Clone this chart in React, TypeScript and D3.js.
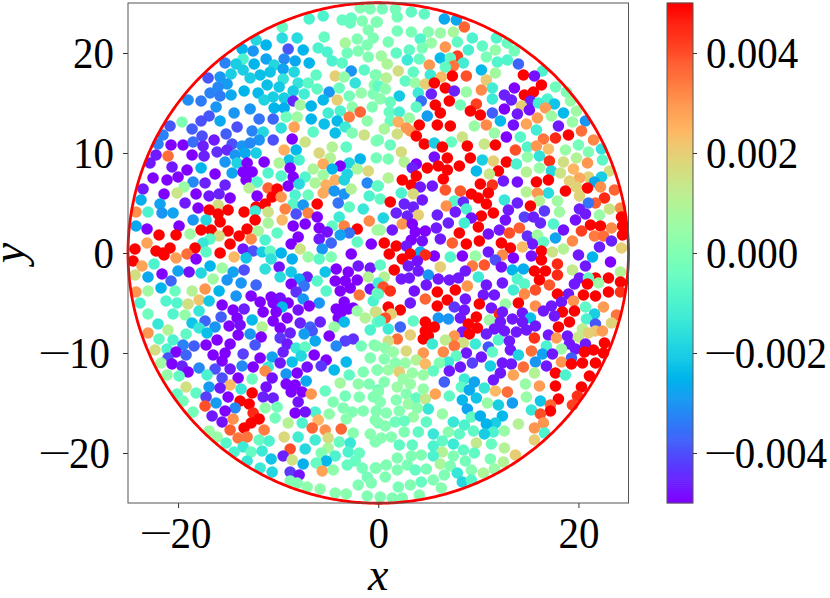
import { useEffect, useRef } from "react"
import * as d3 from "d3"

const WIDTH = 830
const HEIGHT = 598
const PLOT = { left: 128, right: 628.5, top: 3, bottom: 503 }
const BAR = { left: 667, right: 693 }
const FONT = "'Liberation Serif', serif"

const X_TICKS = [-20, 0, 20]
const Y_TICKS = [-20, -10, 0, 10, 20]
const BAR_TICKS = [-0.004, -0.002, 0, 0.002, 0.004]
const RADIUS = 25
const DOT_R = 5.8

// each point: x, y, value in units of 1e-3
const upperLeft = [
[-1.8,24.5,0],[-0.8,24.4,0],[-6.9,23.4,-1],[-5.5,23.7,-1],[-3.6,23.3,-.5],[-2.7,23.5,-.5],[-2.8,23,-.5],[-1.6,23.2,0],[-0.2,23.1,-.3],[-9.6,22.6,-.5],
[-1,22.3,0],[-9.6,21.5,-1.7],[-8.1,21.5,-1.7],[-5.4,21.6,-.5],[-2.1,21.4,0],[-0.5,21.5,0],[-12.2,21.3,-1.8],[-11.2,20.8,-2.5],[-3.3,21,.8],[-1.1,20.8,0],
[-13.6,20.4,-2.5],[-12.5,20.2,-3],[-9,20.4,-3.9],[-7.5,20.3,-2.5],[-6,20.5,-1],[-5.1,20.1,-1],[-2,20.2,0],[-3.1,20,-.3],[-1,19.6,0],[-13.5,19.4,-1],
[-11.2,19.4,-2.8],[-9.4,19.4,-3.2],[-8.3,19.2,-2.7],[-4.6,19.2,-1],[-3.6,19,-.7],[-15.3,19,-3.3],[-14.2,18.9,-2],[-12.4,18.9,-2.5],[-10.4,18.8,-1.8],[-6.9,19,-2.5],
[-13.5,18.3,-2],[-9.5,18.4,-2.8],[-10.8,18.1,-2.2],[-8.4,18.1,-1.8],[-2.7,18.2,-3],[-1.4,18.3,-.7],[-0.3,17.8,0],[-14.7,17.9,-2],[-11.8,17.8,-2.3],[-6.2,17.8,-.6],
[-4.3,17.7,2],[-3.4,17.6,.4],[-17,17.5,-3.9],[-15.8,17.6,-3],[-12.8,17.5,-2],[-9.5,17.4,-1.5],[-15.1,16.9,-2.9],[-16,16.6,-3.2],[-11.1,16.8,-2.3],[-8,17,-1.5],
[-7,17,-.7],[-2.3,17,-1.5],[-9.9,16.6,-2.1],[-6.1,16.4,-.6],[-4.9,16.1,-3],[-3.9,16.5,-.4],[-0.4,16.8,.2],[-16.8,16,-3.3],[-15.8,15.7,-3.4],[-14.7,15.8,-2.7],
[-13.4,16.2,-2.5],[-12,16,-2.4],[-8.5,16.2,-2],[-7.4,15.9,-1.2],[-2.9,15.7,-.2],[-1.7,16,.4],[-0.5,15.9,0],[-19,15.3,-3.1],[-17.7,15.2,-3.4],[-11.4,15.3,-1.9],
[-10.5,15.6,-2],[-9.4,15.5,-2],[-8.5,15.2,-4.5],[-5.5,15.3,-2.4],[-4.1,15.3,2],[-7.8,14.8,.7],[-16.2,14.6,-3],[-10.4,14.5,-2.5],[-9.4,14.5,-2.6],[-6.7,14.7,-2.5],
[-2.6,14.6,.3],[-0.6,14.6,0],[-12.8,14.4,-3],[-14.4,14,-3],[-5,14,-1.2],[-3.8,14.2,-1],[-1.8,14.1,3.7],[-2.9,13.6,3.4],[-16.9,13.7,-3.9],[-17.7,13.2,-4],
[-19.6,13.1,0],[-15.8,13.2,-2.7],[-11.9,13.4,-3.5],[-10.5,13.4,-3.7],[-9.2,13.6,-.3],[-8.1,13.6,.6],[-6.7,13.4,-2.5],[-4.1,13.2,-2.4],[-1.1,13.2,.3],[-20.8,12.7,-3.9],
[-18.6,12.4,-3.8],[-14.1,12.6,-4],[-9.7,12.5,-1.6],[-8.4,12.6,2.8],[-5.4,12.9,-2.3],[-3.3,12.6,-1.3],[-12.6,12.2,-3.3],[-11.5,12.1,-1.8],[-6.5,12.1,-.7],[-4.3,12,-2.3],
[-2.6,12,0],[-1.4,11.8,1.5],[-21.5,11.8,-3.3],[-17.6,11.7,-4],[-15.2,11.9,-3.8],[-22,10.9,-3.3],[-20.7,10.8,-5],[-19.5,10.8,-5],[-18.5,11.1,-3.6],[-16.4,11.3,-4.7],
[-17.5,10.7,-4.6],[-14.6,10.9,-4],[-13.6,10.7,-3],[-11.9,11.3,-3],[-12.8,11,-3.2],[-10.5,11.3,-4],[-8.6,11.4,-5],[-7.3,11.1,1.5],[-4.6,10.6,1],[-3.2,10.6,-.6],
[-0.2,11.2,0],[-9.4,10.3,2.6],[-8.2,10.3,-2.4],[-5.9,10,1.8],[-22.2,9.8,-4.7],[-21,9.7,3.6],[-18.6,9.8,-5],[-17.4,9.7,-4.6],[-16.1,10.1,-4.4],[-15.1,10.3,-4.5],
[-14.3,9.8,-3],[-13.3,10,-2.7],[-12.2,10,-2],[-4.8,9.5,1],[-8.9,9.3,-2.2],[-7.9,9.3,-1],[-1.8,9.4,-2.5],[-2.9,9,-1.8],[-22.8,9,-4.7],[-20.6,8.6,-4.7],
[-15.3,9.1,-3],[-14.1,9,-1.9],[-13.1,9,-5],[-11.4,9.1,-5],[-9.9,9,.9],[-5.5,8.9,2.7],[-3.8,8.7,-5],[-17.7,8.5,-2.5],[-19.1,8.3,-5],[-8.8,8.5,-5],
[-6.5,8.4,.9],[-4.6,8.4,-2.5],[-2.1,8.4,.8],[-1,8.2,1.8],[-22.5,7.5,-5],[-21.1,7.3,-5],[-20,7.6,-5],[-16.3,7.9,-5],[-14.6,8,-2.8],[-13.1,8.1,-5],
[-13.5,8.1,-5],[-12.6,8.1,-5],[-11,8,-.9],[-9.7,7.7,-.9],[-8.5,7.6,-5],[-7.3,7.6,-.9],[-5.5,7.8,.6],[-3.1,7.9,-1.9],[-13.2,7.3,-5],[-18.5,7.1,-3.2],
[-17.3,7,-4.6],[-12.1,7.1,-.9],[-6.3,7,.9],[-4.3,7.3,2.6],[-3.4,7.3,-1.9],[-1.1,7,-3.2],[-23.5,6.4,-4.7],[-15.3,6.8,-4.6],[-9,6.7,-5],[-7.9,6.9,-1.7],
[-5.2,6.8,2.6],[-0.1,6.7,-.5],[-19.4,6.6,.5],[-21.4,5.9,-5],[-20.1,6,1.4],[-18.2,5.9,-5],[-16.9,5.7,-4.7],[-15.9,5.9,-4.6],[-14.8,5.5,-5],[-12.9,6.5,1.1],
[-11,6.5,3.7],[-10.1,6.4,5],[-12.1,5.7,-5],[-10.6,5.6,5],[-9.7,5.6,3],[-8.3,5.8,-1],[-7,5.8,-.4],[-5.5,6,2.7],[-4.4,6.2,-3],[-3.4,5.9,-3],
[-2.7,6.4,1],[-0.9,5.7,-1],[-23.7,5.3,-2.6],[-21.8,4.9,-2.8],[-19.3,5,-4.7],[-16,4.8,1.6],[-11.3,4.9,5],[-12.2,4.6,5],[-8.5,4.9,-.8],[-7.5,4.8,-3],
[-6.1,4.9,5],[-4,5,-3.5],[-18,4.5,-5],[-16.9,4.3,5],[-15,4.3,5],[-13.4,4.1,5],[-12.3,4.2,-1.3],[-11,4.1,1.5],[-9.3,4.4,3.3],[-2.9,4.6,-.6],
[-1.5,4.4,-1.4],[-24.2,4.1,3.1],[-23,4.1,-1],[-21.6,4,-3],[-20.5,4,-2.8],[-16,3.9,5],[-8.2,3.9,-4],[-7,4,3.3],[-6.1,3.6,-5],[-3.9,3.6,-1.3],
[-18.5,3.3,-3],[-17.2,3.3,-1.8],[-15.8,3.1,5],[-12.3,3.3,5],[-9.6,3.3,2.4],[-11,3,.8],[-24.2,2.7,-2.7],[-19.9,2.7,-5],[-8.5,2.7,-5],[-7.3,2.9,-5],
[-4.6,2.7,-.6],[-3.4,2.7,3.3],[-0.9,3.2,3.2],[-23.1,2.4,-5],[-17.7,2.3,5],[-16.7,2.3,5],[-15,2.2,5],[-13.1,2.4,5],[-12,2.2,.8],[-10.1,2,-.6],
[-5.9,2.5,-5],[-5.1,2.1,-4.8],[-2.1,2.4,5],[-2.9,2,-3.5],[-3.8,1.8,-2.8],[-0.1,2.3,.7],[-21.9,1.8,5],[-20.2,1.8,5],[-18.8,1.9,.6],[-15.9,1.7,1.7],
[-13.9,1.7,5],[-16.8,1.4,-.7],[-8,1.6,-5],[-5.9,1.4,-4.7],[-12.7,1.4,3.2],[-11.3,1.3,-1],[-23.1,1,2.8],[-17.5,1,-1.4],[-14.8,.9,5],[-4.7,1,-3.7],
[-2.1,1.1,-.6],[-8.7,.9,-5],[-0.7,.9,-5],[-24.3,.4,5],[-22.2,.2,5],[-20.8,.5,5],[-18.3,.5,5],[-13.5,.4,-4.7],[-12.5,.2,-4],[-11.6,.1,-2],
[-10.8,.2,-.6],[-9.7,0,-2.5],[-7.8,.4,1.5],[-5.6,.4,-3],[-17.2,.1,-.7],[-15.8,0,5],[-19.1,-.1,3.6],[-2.7,-.1,-5],[-21.5,0,5],
]

const lowerLeft = [
[-21.4,-.2,5],[-24.5,-.8,5],[-20.2,-.5,2.9],[-18.2,-.6,-5],[-14.4,-.4,2.4],[-13.2,-.5,-2.2],[-10.7,-.6,-1.6],[-8.6,-.6,-2.6],[-7,-.4,.5],[-5.9,-.6,-.7],
[-4.7,-.4,0],[-23.6,-1.3,2.8],[-22.4,-1.1,-1],[-16.8,-1.3,-2.5],[-15.6,-1.5,.6],[-9.9,-1.4,-4.8],[-2,-1.3,-4.7],[-0.8,-1.5,-4.7],[-24.3,-2.2,1.6],[-23,-2.4,-2.7],
[-21.6,-2.1,-5],[-20,-1.8,-2.8],[-18.9,-1.9,-4.8],[-17.7,-2,-1.8],[-14.5,-1.9,-2.8],[-13.4,-1.7,-4],[-11.3,-1.6,-1.6],[-8.7,-1.9,-2.1],[-5.3,-1.9,-2.2],[-4.2,-1.6,-5],
[-3,-1.9,-5],[-1,-2.4,1],[-9.8,-2.4,-1.7],[-7.1,-2.4,-4.6],[-7.9,-2.6,-2.6],[-16.5,-2.6,.6],[-15.1,-2.7,-3],[-20.7,-2.8,-3.7],[-6.1,-2.8,-.8],[-4.3,-2.8,-5],
[-3.3,-2.8,-5],[-2.1,-2.7,-5],[-12.2,-3.2,-3.7],[-8.7,-3.1,-5],[-13.7,-3,-3],[-7.4,-3.3,-3.5],[-2.8,-3.5,-5],[-0.8,-3.6,-4.8],[-21.7,-3.5,-2.5],[-17.3,-3.6,3],
[-18.6,-3.8,1],[-15.9,-3.8,-2.5],[-5.2,-3.8,-.8],[-3.8,-3.8,-5],[-24.2,-3.9,3],[-23,-3.8,.6],[-20.3,-3.8,-.4],[-8.2,-3.9,-4.4],[-1.9,-4.2,3.5],[-0.1,-4,0],
[-14.2,-4.3,-3],[-12.7,-4.3,-5],[-10.7,-4.4,-5],[-9.8,-4.5,-4.8],[-7.5,-4.6,-3],[-17.9,-4.7,2.2],[-16.9,-4.8,-2.1],[-21.2,-4.8,-.9],[-20.1,-5,-.9],[-19,-5.1,1.6],
[-0.5,-4.8,-1],[-23.8,-5,-1],[-15.6,-5.2,-5],[-11.8,-4.9,-5],[-10.5,-5,-5],[-9,-5,-5],[-5.9,-5,-3],[-3.4,-4.9,-5],[-9.6,-5.4,-2.4],[-6.9,-5.3,-5],
[-2.5,-5.5,-5],[-14.5,-5.7,-5],[-13.4,-5.6,-4.6],[-8,-5.7,-4.8],[-4.2,-5.6,-5],[-3,-5.6,-5],[-17.9,-5.8,-1.4],[-11.5,-5.9,-5],[-10.2,-5.9,-5],[-23,-6.1,-.3],
[-20.5,-6.1,-.9],[-19.3,-6.2,.4],[-3.7,-5.9,-5],[-2.1,-5.8,.5],[-0.3,-5.9,1],[-15.7,-6.4,-3.8],[-14.1,-6.5,-5],[-9.1,-6.5,-5],[-4,-6.5,-5],[-1.3,-6.5,1],
[-18.6,-7,-2.2],[-17.3,-6.8,-3.7],[-12.6,-6.7,-2.4],[-10.5,-6.8,-5],[-5.8,-6.9,-4.6],[-3.4,-6.9,-2.4],[-0.1,-6.9,-.5],[-22,-7.1,-1.4],[-13.8,-7.2,-4.8],[-7.8,-7,-4.6],
[-17.9,-7.5,-1.4],[-16.3,-7.4,-3],[-14.9,-7.3,-5],[-11.6,-7.4,1],[-6.8,-7.4,-3.7],[-4.4,-7.4,.5],[-9.8,-7.5,-5],[-21,-7.7,1],[-0.8,-7.7,-1],[-17.1,-8,-2.3],
[-14,-8.2,-5],[-12.8,-8.1,-3],[-8.8,-8,-4.6],[-6.6,-7.8,-3.9],[-7.4,-8.1,-2.9],[-23,-8,3],[-19.2,-8.1,-.6],[-11.7,-8.4,-5],[-4.9,-8.3,-5],[-21.9,-8.6,-.6],
[-20.5,-8.7,-1],[-16.1,-8.7,-5],[-9.8,-8.5,-4.3],[-2.5,-8.6,-4.4],[-3.3,-8.8,-4.2],[-6.3,-8.8,-2.7],[-19.5,-9.2,-3.3],[-18.4,-9.3,-3.8],[-17.2,-9.2,-5],[-14.8,-9.1,-5],
[-12.3,-9.2,-3.9],[-9.1,-9.1,-4.7],[-4.2,-9.3,-3.2],[-1.7,-9.3,-.2],[-0.4,-9.2,0],[-22.3,-9.7,1.6],[-21.1,-9.6,-1],[-8.2,-9.5,-1.4],[-7.3,-9.4,-.6],[-20.2,-9.9,-5],
[-9.5,-9.9,-4.6],[-15.3,-10,-5],[-19.2,-10.2,-3.7],[-16.5,-10.2,-5],[-13.5,-10.1,-4.2],[-6.4,-10.2,-5],[-7.7,-10.3,-1.8],[-21,-10.5,-4],[-11.8,-10.5,-5],[-10.6,-10.4,-2.8],
[-0.8,-10.5,0],[-15.6,-10.8,-5],[-5.2,-10.7,-5],[-21.7,-11,.6],[-20.6,-11.1,-5],[-19.6,-11.3,-4.6],[-13.6,-11.3,-3.2],[-9.8,-11,-4.7],[-8.6,-10.9,-2.3],[-3.2,-10.9,-2.4],
[-5.7,-11.3,-4.3],[-17.9,-11.5,-3.2],[-16.3,-11.6,-4],[-14.8,-11.6,-4.7],[-12.5,-11.4,-5],[-11,-11.4,-1.4],[-7.1,-11.4,-4.8],[-0.1,-11.7,0],[-4.4,-11.7,-2.4],[-11.3,-11.8,3.2],
[-19,-11.9,-5],[-8.1,-12,-5],[-1.5,-11.9,0],[-2.9,-12.2,-.6],[-21.1,-12.2,.4],[-19.9,-12.3,-.6],[-17.1,-12.2,-1],[-9.2,-12.1,-3],[-14,-12.5,-5],[-15.6,-12.5,-4],
[-12.6,-12.6,-.4],[-10.6,-12.5,-4.8],[-7.2,-12.8,-2.7],[-14.8,-13.2,2.4],[-9.2,-13.1,-5],[-8.3,-13.2,-5],[-3.8,-13,.7],[-2,-13.1,.3],[-0.9,-13.1,0],[-19.2,-13.4,1.6],
[-16.9,-13.4,-2.9],[-15.8,-13.5,-4.7],[-11.2,-13.4,-4.8],[-13.7,-13.6,-1.4],[0,-13.7,-.5],[-8.7,-13.9,-5],[-7.6,-13.9,-5],[-6.7,-14.1,3],[-5.3,-13.8,-.5],[-20.1,-14.1,-.6],
[-18.2,-14,-.6],[-12.6,-14,5],[-3.3,-14.3,-.2],[-1.9,-14.4,0],[-0.5,-14.4,0],[-15,-14.4,-5],[-17.2,-14.4,-4.2],[-11.5,-14.4,-4.6],[-10.5,-14.5,-4.6],[-19.5,-14.8,-.2],
[-13.8,-14.8,5],[-16.2,-15,-2.9],[-8,-14.9,-4.8],[-4.5,-14.9,0],[-12.9,-15.1,5],[-3.5,-15.5,0],[-17.3,-15.3,4],[-14.3,-15.5,-3.2],[-11.3,-15.5,.3],[-10.1,-15.4,-.2],
[-15.3,-15.8,-5],[-6.3,-15.9,-1],[-1.5,-15.8,0],[-2.6,-15.9,0],[-0.2,-15.8,0],[-18.5,-15.9,-.2],[-12.5,-16,4.5],[-8.3,-16,-5],[-7.3,-15.9,-4.8],[-4.9,-16.1,.3],
[-16.6,-16.3,-4.7],[-10.3,-16.5,-.2],[-14.5,-16.6,3.1],[-11.9,-16.6,5],[-3.2,-16.6,.2],[-6,-16.7,2.5],[-12.7,-17,5],[-9,-17,1],[-15.6,-16.9,-4.8],[-7.6,-17,-1],
[0,-17,0],[-13.4,-17.5,5],[-6.6,-17.5,3.7],[-3.7,-17.6,3.7],[-14.8,-17.7,3.8],[-11.4,-17.7,3.4],[-5.3,-17.7,3.1],[-16.9,-17.8,.5],[-2.5,-18,.2],[-0.8,-18.1,.2],
[-16.1,-18.4,.5],[-14,-18.5,3.5],[-13.1,-18.4,3.5],[-9.4,-18.4,1.8],[-8,-18.4,-1.2],[-5,-18.5,1.7],[-15.2,-19,-.8],[-11.9,-18.7,-.5],[-10.9,-18.8,-1],[-6.3,-18.7,-1.2],
[-3.9,-18.9,-.5],[-2.8,-19,-1.4],[-13.5,-19.4,-1.3],[-8.8,-19.6,4],[-7.3,-19.6,-1.8],[-5,-19.5,.8],[-14.4,-19.9,-1],[-12.7,-19.9,-.5],[-11.6,-19.8,-1.3],[-5.7,-20,0],
[-4.3,-20.3,-1],[-3,-19.9,-1],[-1.9,-20,-.5],[-10.7,-20.6,-2.2],[-9.5,-20.3,-4.6],[-8.6,-20.7,1.5],[-13.1,-20.8,-1.4],[-5.2,-20.8,-2.4],[-2.3,-20.8,-.5],[-7.5,-21.1,-2.6],
[-6.2,-21,-.5],[-3.1,-21.2,-.5],[-11.8,-21.5,-1.3],[-1.6,-21.5,-.2],[-4.5,-21.7,.3],[-0.3,-21.5,0],[-10.6,-21.9,-1.8],[-5.6,-21.8,2.8],[-8.8,-21.9,-4.3],[-7.9,-22.2,-4.8],
[-1.1,-22.4,-.2],[-8.8,-22.8,0],[-8.1,-23,0],[-7.1,-23.4,.3],[-2,-23.2,0],[-0.7,-23,0],[-5.8,-23.6,.3],[-4.3,-24,.2],[-3.2,-24.1,.2],[-1.1,-24.3,0],
]

const upperRight = [
[.4,24.4,-.2],[1.7,24.4,-.2],[3.3,24.1,-.6],[4.6,23.9,-.6],[1.9,23.6,-.2],[6.6,23.4,-2.7],[7.8,23.3,-2.7],[-0.1,23.1,0],[8.6,22.6,3.7],[1.9,22.2,-.2],
[3.3,22.1,-.1],[5,22.1,.1],[6.2,22,.5],[7.5,22.1,.8],[9.4,21.5,-1],[11.8,21.5,-.9],[4.2,21.4,-.9],[1,21.1,-.1],[5.3,21,.5],[7.9,21.1,-.6],
[12.9,21,-.4],[10.4,20.7,-.6],[6.7,20.6,3],[4.4,20.5,-.1],[3.1,20.3,-.6],[9,20.3,-1.1],[11.7,20.3,.4],[13.6,20.2,-.2],[1.8,20,-.6],[.3,19.7,.6],
[7.9,19.7,4.2],[6.2,19.5,-2.4],[7.2,19.5,-.6],[10.8,19.6,-.1],[2.9,19.3,-1.3],[4.1,19.4,-.5],[.9,18.9,.9],[11.9,19.1,-.9],[12.9,19.3,-.9],[8.5,19,-1.2],
[5.1,18.8,3],[7.5,18.7,3.5],[6.7,18.6,-.6],[14,18.9,-3.7],[2,18.2,1.6],[3.5,18.1,-.6],[10.3,18.3,-2.4],[11.7,18,.7],[16.4,18.2,-1],[5.2,17.8,-1.3],
[7.4,17.7,5],[8.8,17.7,4],[14.5,17.8,5],[15.6,17.7,-4.8],[-0.2,17.8,0],[6.3,17.6,2.4],[.8,17.5,1.1],[10.8,17.3,2.1],[2.7,17.2,-.6],[3.7,17,.5],
[4.7,16.9,2],[5.6,17,5],[16.3,16.8,5],[17.7,16.6,-.3],[0,16.7,-.6],[13.6,16.5,-5],[6.7,16.5,5],[11.4,16.5,-1.2],[.7,16.4,.2],[7.6,16.2,-4.6],
[8.8,16.1,.5],[10.3,16.3,3.2],[4,16,-1.3],[5.3,15.9,-4.6],[15.5,16.1,5],[14.6,15.8,5],[18.8,16.1,-.1],[2.1,15.7,-2.1],[12.6,15.8,-4.6],[13.3,15.3,-4.6],
[11.4,15.4,-1.3],[.2,15.4,.2],[4.3,15.2,-3.6],[7.1,15.2,5],[9.8,14.9,4.2],[15.2,15.2,-4.6],[16.9,15.4,-1],[16,15,-1.2],[17.6,14.9,-2.2],[1.2,15.1,-.4],
[19.2,15.2,.4],[5.7,14.8,5],[8.2,14.8,-.2],[14.3,14.7,2],[3.8,14.6,-.6],[12.6,14.4,-5],[15.1,14.3,-4.8],[16.7,14.5,2.9],[9.2,14.2,5],[1.1,14.1,-.5],
[2.1,14.1,-1.1],[19.8,14.2,.6],[6.2,14,5],[11.4,14,-3.8],[18.5,14,-2.4],[10.2,13.8,5],[13.9,13.9,-4.7],[17.3,13.7,.6],[4.9,13.7,-2.9],[3.1,13.5,.5],
[15.9,13.5,2.9],[1.2,13.2,-.4],[12.2,13.2,-2.4],[19.4,13.1,.5],[20.7,13.2,-3],[2,13.1,2.6],[4.1,12.8,5],[5.9,12.8,5],[7.2,12.7,5],[9.6,12.7,.5],
[10.8,12.8,3.2],[13.5,12.8,-4.8],[14.8,12.9,2.8],[18,12.7,-4.7],[.6,12.4,.8],[2.8,12.5,3],[3.2,12.2,3],[15.8,12.3,-1.2],[20.3,12.2,3.6],[1.9,11.9,1.6],
[11.6,12,.5],[19,11.8,5],[3.8,11.7,5],[12.8,11.6,-5],[14.2,11.6,-.8],[17.7,11.5,4.5],[21.5,11.3,3.2],[0,11.3,-.1],[8.4,11.6,1.5],[16.5,11.4,3.5],
[4.6,10.9,5],[5.6,11,-2],[7.3,11.1,-.5],[8.9,10.7,5],[10.6,10.9,1.4],[11.7,10.8,5],[20,10.8,-.2],[1.2,10.8,-.4],[14.9,10.6,-.9],[15.8,10.7,3],
[17,10.4,2.3],[6.4,10.6,5],[13.7,10.3,4],[18.7,10.3,.5],[21,10.1,0],[2.3,10.1,1.7],[22.3,10.4,-1.5],[5.6,9.6,-4.8],[6.9,9.5,5],[16.1,9.7,-1.5],
[14.9,9.6,.4],[9.2,9.5,5],[-0.2,9.5,-.2],[19.8,9.5,1],[22.4,9.3,-.7],[1,9.4,-.1],[10.4,9.3,-2],[11.5,9.2,2],[12.8,9.1,5],[17.1,9.2,4.4],
[2.6,9.1,1],[18.5,9.1,1.6],[20.9,9,3],[13.8,8.9,-1],[3.8,8.9,-5],[3.4,8.5,-4.6],[6,8.7,5],[8.1,8.7,5],[16.1,8.5,.5],[4.9,8.5,5],
[6.9,8.3,5],[9.8,8.2,-2.4],[12,8.2,5],[14.8,8.1,1],[19.5,8.4,2.5],[17.3,8.2,-1.8],[23.1,8.2,1.6],[11.1,7.9,1.4],[18.2,8,1.5],[3.8,7.7,5],
[1,7.5,1],[21,7.6,1.9],[22.3,7.6,-2],[6.5,7.4,5],[20.1,7.5,2.7],[2.4,7.3,5],[17,7.3,5],[15.8,7.1,5],[13.9,7.1,-4.8],[12.5,7.2,-4.7],
[19.1,7.2,2],[21.6,7.1,-2.7],[3.3,6.8,5],[5.4,6.7,-4.7],[4.2,6.6,-4.7],[10.2,6.9,5],[11.4,6.8,4.4],[19.8,6.6,1.9],[22.2,6.6,3.1],[20.9,6.5,5],
[0,6.7,-.6],[14.8,6.1,1],[2.3,6,-1],[3.5,5.9,1.7],[6.7,6.3,3.9],[8.2,6.2,3.9],[11,6,5],[18.7,6.2,5],[17,6,-1.7],[15.9,6,3],
[23.6,6.3,3.7],[9.3,5.9,5],[20.1,5.7,1.9],[10,5.5,5],[4.4,5.3,-4.7],[12.6,5.3,-1.4],[22.6,5.5,4.5],[.2,5.4,-.6],[1.2,5.1,5],[7.6,5.2,-.8],
[8.5,5.1,-4.5],[16.1,5.2,1],[17.9,5.2,.6],[13.9,5,-4.6],[21.7,5,3.8],[21,5,-3.5],[10.8,4.9,5],[2.6,4.9,-4.6],[6.8,4.7,3.1],[15.2,4.7,5],
[3.5,4.6,-4.6],[20.1,4.4,-4.6],[24.2,4.5,3.2],[23.1,4.4,1.5],[7.7,4.1,-4.7],[8.8,4.4,-1],[13,4.3,-4.7],[16.6,4.2,-4.3],[18.1,4.1,.6],[1.8,4,-4.6],
[11.5,4,5],[20.7,3.9,-4.7],[5.9,3.8,-4.6],[22.1,3.8,.5],[4,3.8,2],[2.9,3.7,-4.6],[10.3,3.7,5],[14.6,3.6,-4.2],[15.5,3.6,-4.6],[24.3,3.6,5],
[.5,3.5,-1.9],[9.3,3.5,-4.8],[12.7,3.3,-4.8],[19.7,3.3,-4.8],[2.4,2.9,3],[7,3,-4.6],[8.6,3,-1.2],[3.4,2.9,-5],[17.5,2.9,-.9],[16.2,3,-4.5],
[21.2,2.8,5],[22.2,2.7,5],[24.4,2.7,5],[.2,2.3,.6],[1.4,2.3,-4.7],[5.8,2.5,-4.7],[10,2.6,5],[12.1,2.3,-4.7],[14.1,2.5,3.8],[18.5,2.3,-4.8],
[23.3,2.5,3.2],[3.7,2.1,-5],[4.7,2.2,-5],[20.3,2.2,4.2],[8.1,2,5],[11,1.9,-4.8],[13.1,2,4],[14.9,1.7,-4.4],[15.9,1.8,.6],[21.6,1.7,3.4],
[22.5,1.7,3.6],[24.4,1.8,5],[3.3,1.3,-5],[6.2,1.4,-4.7],[4.4,1.2,-4.8],[10.1,1.2,5],[12.3,1,5],[17.7,1.5,-2.8],[16.5,1.1,-.6],[19.4,1.2,3.2],
[23.3,1.2,-4.6],[7.4,1,3.8],[.6,1,5],[15.4,.9,-4.7],[8.8,.9,5],[1.8,.7,5],[2.8,.7,-4.7],[14.4,.6,2.4],[13.2,.5,5],[22.1,.6,-4.6],
[24.3,.5,2],[18.5,.4,1],[16.3,.2,5],[17.4,.1,1.5],[4.2,.1,-2.7],[11,.1,-4.7],[20,-.2,-4.7],[5.6,-.3,-5],[8.4,-.3,-5],[12.4,-.2,3.2],
[1.1,-.1,5],[3.2,-.1,5],[4.7,-.2,4.5],[9.7,-.3,.5],
]

const lowerRight = [
[7.2,-.4,-.9],[11.7,-.7,-4],[13.5,-.5,-5],[15.3,-.3,-4.8],[16.3,-.7,5],[21.4,-.4,-2.5],[23.2,-.9,-5],[.2,-1.2,-.6],[2.4,-.6,5],[3.9,-.8,-4.8],
[3,-1.3,-4.7],[6.2,-1.4,2],[9.4,-1.3,3.4],[10.6,-1.2,3.9],[12.3,-1.4,-4.8],[13.4,-1.7,-2.5],[14.5,-1.6,-2.6],[17.9,-1.1,4.5],[20.7,-1.3,-4.7],[15.6,-1.8,5],
[16.7,-1.8,5],[19.4,-1.7,1.3],[24.2,-1.9,1],[1.6,-1.7,5],[4,-1.8,-4.7],[8.7,-1.8,-4.7],[17.9,-2.2,4.5],[20.1,-2.5,-4.7],[5,-2.2,-3],[.6,-2.4,1],
[2.3,-2.6,-4.7],[3.1,-2.5,-4.7],[6,-2.6,-4.7],[7.1,-2.7,-4.7],[8,-2.5,-4.7],[10,-2.4,-1.3],[13.9,-2.6,-.9],[16.1,-2.7,5],[21.7,-2.5,5],[21,-2.5,-.6],
[23,-2.5,5],[22,-3,.5],[24.2,-2.9,5],[12.4,-3,-4.7],[0,-3,-1.2],[14.6,-3.1,-.8],[4.8,-3.2,-4.7],[8.9,-3.3,3],[10.8,-3.2,-4.7],[17.1,-3.2,3.9],
[19.6,-3.1,-4.7],[20.9,-3.1,5],[.5,-3.4,4],[3.6,-3.8,-4.8],[7.7,-3.7,5],[13.5,-3.7,-1.2],[15.7,-3.7,4],[23,-3.9,5],[24.2,-3.9,4.4],[1.2,-3.8,4.4],
[5.9,-3.9,5],[14.6,-4.1,3.2],[10.5,-4.2,-4.7],[11.6,-4.2,-4.7],[0,-4.1,-.6],[17.9,-4.1,5],[19,-4.1,-4.7],[20.5,-4.2,5],[21.7,-4.3,5],[4.7,-4.6,3.7],
[8.7,-4.6,-4.7],[6.9,-4.7,5],[18.3,-4.9,-4.7],[19.5,-4.8,3],[14,-5,5],[3.2,-5,-4.7],[10.1,-5.1,5],[12.7,-5.1,.5],[15.7,-5.3,3.1],[5.9,-5.3,5],
[17.3,-5.3,-4.7],[22.5,-5.4,2.9],[1,-5.4,5],[7.6,-5.4,-4.3],[11.3,-5.5,-4.7],[20.7,-5.4,-.6],[8.6,-5.7,-4.7],[2.2,-5.7,5],[16.5,-5.8,-4.7],[18.4,-5.9,5],
[19.6,-5.8,5],[12.1,-6.1,4.5],[14.4,-6,-4.7],[21.6,-6.1,-2],[23.8,-6.2,3.5],[1.3,-6.1,2],[-.2,-5.9,1.6],[17.6,-6.3,-4.7],[6,-6.5,-3],[7,-6.6,-3],
[8.2,-6.5,-4.7],[9.8,-6.4,5],[12.4,-5.9,-4.7],[13.4,-6.6,-4.7],[15.2,-6.5,-2.3],[20.8,-6.6,-1],[11.1,-6.7,.6],[.7,-6.5,4],[19.1,-6.9,5],[4.7,-6.9,5],
[3.5,-6.8,-.6],[.2,-6.8,-.9],[12.2,-6.9,-4.7],[14.4,-6.9,-4.7],[23.3,-7,1.9],[21.7,-7.1,-3.9],[1,-7.6,-1.3],[2.2,-7.4,-3.7],[5.6,-7.4,5],[9,-7.1,5],
[9.9,-7.5,5],[18,-7.4,5],[15.7,-7.3,-4.7],[11.6,-7.6,-4.7],[12.6,-7.8,-4.7],[14.8,-7.7,-4.7],[20.4,-7.6,1.2],[21.7,-7.8,2.2],[22.4,-7.8,2.9],[4.7,-7.8,5],
[8.4,-7.9,-4.7],[13.8,-7.9,-4.7],[7.6,-8.3,3],[9.1,-8.1,5],[10.8,-8.1,-4.6],[3.2,-8.2,2],[5,-8.3,5],[18.9,-8.3,-4.7],[17,-8.2,-4.7],[21,-8,2],
[20,-8.4,1.4],[15.6,-8.5,4.4],[17.8,-8.5,2.9],[4.5,-8.6,5],[1.9,-8.6,3.6],[1,-8.8,1.6],[6.7,-8.7,1.2],[12,-8.7,-.9],[13.1,-8.8,-4.7],[22.6,-9,5],
[20.7,-9.1,-4.7],[5.4,-9.1,-1.3],[8.5,-9,1.6],[9.7,-9.1,-1.3],[11,-9.4,-3.9],[16.8,-9.3,-1],[7.6,-9.3,3.5],[-.2,-9.3,.2],[19.1,-9.1,-4.7],[.7,-9.5,.3],
[19.7,-9.6,-4.7],[18.3,-9.6,.5],[13.2,-9.7,-4.7],[2.8,-9.8,1.8],[15.3,-9.8,3.6],[21.5,-9.7,5],[1.5,-9.9,.5],[6.5,-9.9,3.2],[20.6,-9.9,5],[22.5,-10,5],
[4.5,-10,3],[11.4,-9.9,-.6],[8.8,-10,-4.7],[16.4,-10.1,-2.8],[17.4,-10.1,-4.7],[7.8,-10.3,-.6],[10.3,-10.4,-4.7],[14,-10.2,-1.9],[19.3,-10.5,-3.8],[.6,-10.6,.1],
[15.7,-10.9,-3],[3.8,-10.7,1],[7,-10.9,-1.3],[9.4,-11,-4.2],[2.7,-11,.5],[1.7,-11,.2],[12.4,-11,-4.7],[13.3,-11.1,-4.7],[18.3,-10.9,3],[4.7,-11.1,2.4],
[19.3,-11.1,5],[20.4,-11,5],[21.7,-11,5],[11.2,-11.3,-2],[16.8,-11.3,-4.7],[8.2,-11.4,-4.7],[14.5,-11.4,3.6],[6.1,-11,0],[1,-11.7,.5],[-.1,-11.7,.1],
[2.1,-11.9,2],[5.5,-11.8,-.6],[7.1,-11.8,-4.7],[3.4,-12,.5],[12.2,-12,-4.7],[15.6,-12,1],[17.7,-12,5],[18.7,-12.2,-1],[21.1,-12.3,5],[13.5,-12.2,2.8],
[4.5,-12.2,.5],[8.6,-12.6,-1.3],[2.5,-12.6,.5],[11.5,-12.7,-4.7],[6.6,-12.9,-3.8],[9.6,-12.9,-2.8],[.6,-12.9,.1],[3.2,-13.1,.5],[14.7,-13.1,.5],[16.1,-13.3,2.9],
[17.7,-13.3,5],[1.9,-13.4,.5],[8.3,-13.4,-.6],[10.6,-13.5,-1.4],[9.1,-13.7,-2.7],[4.5,-13.6,.4],[20.3,-13.4,5],[11.7,-13.8,2.4],[12.9,-13.9,3.6],[0,-13.9,.1],
[5.7,-14.1,2.8],[2.8,-14.1,.1],[7.1,-14.3,-.6],[9.8,-14.5,-2.2],[19.9,-14.3,4.4],[14.8,-14.4,.5],[18,-14.6,5],[3.8,-14.5,-.6],[4.7,-14.6,1.3],[1.8,-14.7,.1],
[8.4,-14.7,-2.4],[16.2,-14.8,-2.2],[.2,-14.9,.1],[10.9,-15,.5],[13.4,-15,-2.9],[3,-15.1,.5],[12,-15.2,-2],[19.4,-15.2,4.2],[17.2,-15.2,3.7],[5,-15.6,-1.4],
[3.9,-15.5,.2],[8.9,-15.6,-2.8],[2.1,-15.8,.1],[.8,-16,.1],[15.3,-15.7,-1.4],[17.2,-15.8,5],[16.2,-16.1,4],[6.4,-16.1,.5],[12.4,-16.3,-2.4],[9.3,-16.4,-.6],
[10.2,-16.3,-2.6],[3.5,-16.4,.5],[-.3,-16.7,.1],[1.7,-16.9,-.3],[2.6,-16.8,-.5],[4.8,-16.9,-.6],[7.5,-16.9,-1.4],[11.7,-17,-2],[16.5,-17,3],[14,-17.1,1],
[10.8,-17.1,-2.5],[8.6,-17.2,-1],[.7,-17.3,.1],[15.6,-17.5,3],[4,-17.9,-.6],[2.6,-17.9,0],[9.5,-17.8,-.6],[11.5,-17.9,-1],[10.6,-18.1,-2],[12.6,-17.8,.5],
[16.6,-18,-1],[7,-17.9,.2],[5.5,-18.1,-1.4],[8.1,-18.1,-.6],[1.3,-18.4,.1],[.3,-18.5,.1],[15.6,-18.7,2],[-.3,-18.9,.1],[9.8,-19,1.3],[6.4,-18.8,-.6],
[2.1,-19.2,-.6],[3.4,-19.2,-.6],[5.5,-19.3,-1],[7.5,-19.1,-1.3],[11.3,-19.1,-.5],[12.6,-19.5,1],[8.5,-19.7,-.6],[9.6,-20,-.6],[13.7,-20.2,2],[6.4,-19.9,1],
[5.5,-20.3,-1],[4.3,-20.2,0],[3.3,-20.3,0],[7.5,-20.3,0],[1.9,-20.5,0],[11.2,-20.6,-.1],[8.7,-20.8,-.2],[12.5,-20.9,1],[.8,-21.2,0],[2.9,-21.2,-.1],
[6.2,-21.1,.8],[7.2,-21.3,0],[4.8,-21.6,-.1],[3.7,-21.7,-.5],[-.2,-21.5,0],[11.6,-21.6,.5],[9.3,-21.7,.1],[1.9,-21.7,0],[7.9,-22,-1.4],[10.5,-22,.9],
[6.6,-22.2,0],[.7,-22.4,0],[5.5,-22.7,0],[4.3,-22.9,-.5],[8.4,-22.9,-1.8],[9.3,-22.7,-.8],[3.2,-23.2,0],[2,-23.4,-.1],[6.3,-23.5,.2],[.2,-24.4,0],
[1.4,-24.5,0],[2.4,-24.5,0],[4.1,-24.2,.1],
]

const points = [...upperLeft, ...lowerLeft, ...upperRight, ...lowerRight]

// matplotlib "rainbow" colormap
function rainbow(t: number) {
  const r = Math.min(1, Math.abs(2 * t - 0.5))
  const g = Math.sin(Math.PI * t)
  const b = Math.cos((Math.PI * t) / 2)
  return d3.rgb(r * 255, g * 255, b * 255).formatHex()
}

const intFmt = d3.format("d")
const barFmt = d3.format(".3f")

export default function App() {
  const svgRef = useRef<SVGSVGElement>(null)

  useEffect(() => {
    const svg = d3.select(svgRef.current)
    svg.selectAll("*").remove()

    const xScale = d3.scaleLinear().domain([-25, 25]).range([PLOT.left, PLOT.right])
    const yScale = d3.scaleLinear().domain([-25, 25]).range([PLOT.bottom, PLOT.top])
    const barScale = d3.scaleLinear().domain([-0.005, 0.005]).range([PLOT.bottom, PLOT.top])
    const colorScale = d3.scaleSequential(rainbow).domain([-0.005, 0.005]).clamp(true)

    svg.append("g")
      .selectAll("circle")
      .data(points)
      .join("circle")
      .attr("cx", (d) => xScale(d[0]))
      .attr("cy", (d) => yScale(d[1]))
      .attr("r", DOT_R)
      .attr("fill", (d) => colorScale(d[2] * 1e-3))

    // bounding circle
    const ring = d3.lineRadial<number>()
      .angle((d) => d)
      .radius(xScale(RADIUS) - xScale(0))
      .curve(d3.curveLinearClosed)
    svg.append("path")
      .attr("transform", `translate(${xScale(0)},${yScale(0)})`)
      .attr("d", ring(d3.range(0, Math.PI * 2, 0.01)))
      .attr("fill", "none")
      .attr("stroke", "#ff0000")
      .attr("stroke-width", 2.8)

    const styleAxis = (g: any) => {
      g.selectAll("text")
        .attr("font-family", FONT)
        .attr("font-size", 41)
        .attr("fill", "#000")
        .style("transform-box", "fill-box")
        .style("transform-origin", "center")
        .style("transform", "scale(1,1.08)")
        .each(function (this: SVGTextElement) {
          // the LaTeX minus is much wider than the serif one
          const label = (this.textContent ?? "").replace("\u2212", "-")
          if (!label.startsWith("-")) return
          const t = d3.select(this).text("")
          t.append("tspan").attr("dx", -4).attr("font-family", "'DejaVu Sans'").attr("font-size", 44).attr("font-weight", 200).text("\u2212")
          t.append("tspan").attr("dx", -4).text(label.slice(1))
        })
      g.selectAll(".tick line").attr("stroke", "#333").attr("stroke-width", 1)
      g.select(".domain").remove()
    }

    svg.append("g")
      .attr("transform", `translate(0,${PLOT.bottom})`)
      .call(d3.axisBottom(xScale).tickValues(X_TICKS).tickSize(5).tickPadding(10).tickFormat((d) => intFmt(+d)))
      .call(styleAxis)

    svg.append("g")
      .attr("transform", `translate(${PLOT.left},0)`)
      .call(d3.axisLeft(yScale).tickValues(Y_TICKS).tickSize(5).tickPadding(9).tickFormat((d) => intFmt(+d)))
      .call(styleAxis)

    svg.append("rect")
      .attr("x", PLOT.left).attr("y", PLOT.top)
      .attr("width", PLOT.right - PLOT.left).attr("height", PLOT.bottom - PLOT.top)
      .attr("fill", "none").attr("stroke", "#555").attr("stroke-width", 1)

    // colorbar
    const levels = d3.range(256).map((i) => i / 255)
    const barH = (PLOT.bottom - PLOT.top) / 256
    svg.append("g")
      .selectAll("rect")
      .data(levels)
      .join("rect")
      .attr("x", BAR.left)
      .attr("width", BAR.right - BAR.left)
      .attr("y", (t) => barScale(-0.005 + t * 0.01 * (255 / 256) + 0.01 / 256) - 0.3)
      .attr("height", barH + 0.6)
      .attr("fill", (t) => rainbow(t))

    svg.append("rect")
      .attr("x", BAR.left).attr("y", PLOT.top)
      .attr("width", BAR.right - BAR.left).attr("height", PLOT.bottom - PLOT.top)
      .attr("fill", "none").attr("stroke", "#555").attr("stroke-width", 1)

    svg.append("g")
      .attr("transform", `translate(${BAR.right},0)`)
      .call(d3.axisRight(barScale).tickValues(BAR_TICKS).tickSize(4).tickPadding(9).tickFormat((d) => barFmt(+d)))
      .call(styleAxis)

    svg.append("text")
      .attr("x", xScale(0)).attr("y", 590)
      .attr("text-anchor", "middle")
      .attr("font-family", FONT).attr("font-style", "italic").attr("font-size", 46)
      .text("x")

    svg.append("text")
      .attr("transform", `translate(24,${yScale(0)}) rotate(-90)`)
      .attr("text-anchor", "middle")
      .attr("font-family", FONT).attr("font-style", "italic").attr("font-size", 46)
      .text("y")
  }, [])

  return (
    <svg
      ref={svgRef}
      width={WIDTH}
      height={HEIGHT}
      style={{ position: "absolute", left: 0, top: 0, background: "#fff" }}
    />
  )
}
